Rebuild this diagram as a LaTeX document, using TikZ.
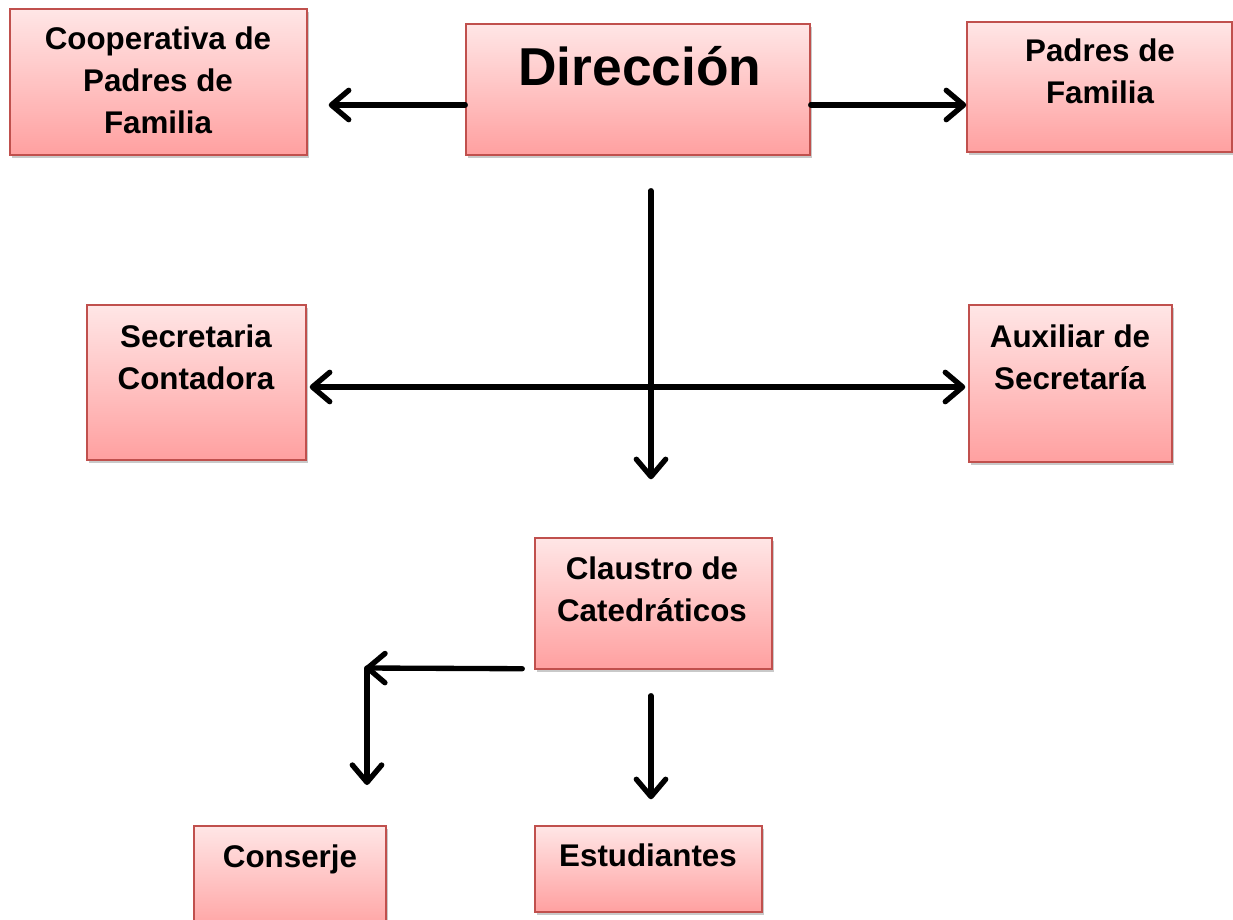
\documentclass[tikz,border=0pt]{standalone}
\usepackage{fontspec}
\setmainfont{Liberation Sans}
\usetikzlibrary{arrows.meta,shadows,calc}
\definecolor{bordr}{RGB}{192,80,77}
\definecolor{toppk}{RGB}{255,230,230}
\definecolor{botpk}{RGB}{255,160,160}
\tikzset{
  pbox/.style={draw=bordr, line width=1.1pt, rectangle, inner sep=0pt,
    top color=toppk, bottom color=botpk,
    drop shadow={shadow xshift=1.5pt, shadow yshift=-2.2pt, opacity=0.35, fill=black!60}},
  lbl/.style={font=\fontsize{23.5}{31.5}\selectfont\bfseries, align=center, anchor=base, inner sep=0pt},
  arr/.style={line width=4pt, line cap=round, -{Straight Barb[length=13pt,width=22pt,line width=4pt,round]}},
  darr/.style={line width=4pt, line cap=round, {Straight Barb[length=13pt,width=22pt,line width=4pt,round]}-{Straight Barb[length=13pt,width=22pt,line width=4pt,round]}},
}
\begin{document}
\begin{tikzpicture}[x=0.75pt,y=-0.75pt]
\useasboundingbox (0,0) rectangle (1233,920);
\fill[white] (0,0) rectangle (1233,920);
% boxes
\node[pbox, minimum width=222.75pt, minimum height=109.5pt] (coop) at (158.5,82) {};
\node[pbox, minimum width=258pt, minimum height=98.25pt] (dir) at (638,89.5) {};
\node[pbox, minimum width=198.75pt, minimum height=97.5pt] (pad) at (1099.5,87) {};
\node[pbox, minimum width=164.25pt, minimum height=116.25pt] (sec) at (196.5,382.5) {};
\node[pbox, minimum width=152.25pt, minimum height=117.75pt] (aux) at (1070.5,383.5) {};
\node[pbox, minimum width=177.75pt, minimum height=98.25pt] (claus) at (653.5,603.5) {};
\node[pbox, minimum width=144pt, minimum height=81pt] (cons) at (290,880) {};
\node[pbox, minimum width=170.25pt, minimum height=64.5pt] (est) at (648.5,869) {};
% texts (base = baseline of last line)
\node[lbl] (tcoop) at (158,134) {Cooperativa de\\Padres de\\Familia};
\node[lbl, font=\fontsize{40}{48}\selectfont\bfseries] (tdir) at (640,86) {Dirección};
\node[lbl] (tpad) at (1100,104) {Padres de\\Familia};
\node[lbl] (tsec) at (196,389) {Secretaria\\Contadora};
\node[lbl] (taux) at (1070,389) {Auxiliar de\\Secretaría};
\node[lbl] (tclaus) at (652,621) {Claustro de\\Catedráticos};
\node[lbl] (tcons) at (290,867) {Conserje};
\node[lbl] (test) at (648,866) {Estudiantes};
% connectors
\draw[arr] ($(dir.west)+(0,15.5)$) -- ($(coop.east)+(21,23)$);
\draw[arr] ($(dir.east)+(0,15.5)$) -- ($(pad.west)+(0,18)$);
\draw[arr] ($(dir.south)+(13,35)$) -- ($(claus.north)+(-2.5,-58)$);
\draw[darr] ($(sec.east)+(3,4.5)$) -- ($(aux.west)+(-3,3.5)$);
\coordinate (corner) at (367,668);
\coordinate (cdown) at (367,785);
\draw[arr] ($(claus.south west)+(-12,-1)$) -- ([xshift=-1.5pt]corner);
\draw[arr] (corner) -- (cdown);
\draw[arr] ($(claus.south)+(-2.5,26)$) -- ($(est.north)+(2.5,-26)$);
\end{tikzpicture}
\end{document}
